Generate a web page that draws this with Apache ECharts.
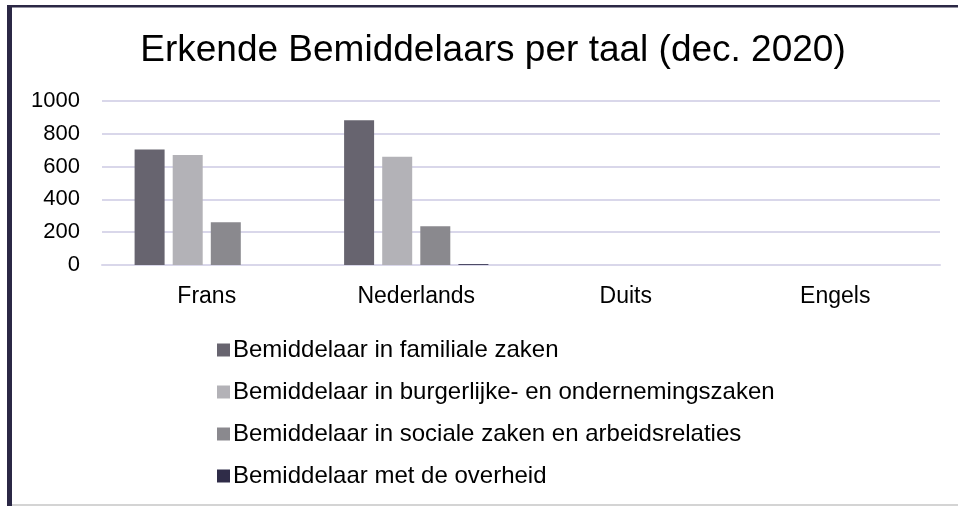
<!DOCTYPE html>
<html>
<head>
<meta charset="utf-8">
<script src="https://cdn.jsdelivr.net/npm/echarts@6/dist/echarts.min.js"></script>
<style>
html, body { margin: 0; padding: 0; background: #fff; }
#view { width: 958px; height: 506px; }
</style>
</head>
<body>
<div id="view"></div>
<script>
var talen = ['Frans', 'Nederlands', 'Duits', 'Engels'];
var reeksNamen = [
    'Bemiddelaar in familiale zaken',
    'Bemiddelaar in burgerlijke- en ondernemingszaken',
    'Bemiddelaar in sociale zaken en arbeidsrelaties',
    'Bemiddelaar met de overheid'
];
var familiaal = [705, 883, 0, 0];
var burgerlijk = [671, 660, 0, 0];
var sociaal = [261, 236, 0, 0];
var overheid = [0, 5, 0, 0];
var kleuren = ['#67646f', '#b3b2b7', '#8a898e', '#2f2c48'];

var myChart = echarts.init(document.getElementById('view'));

var waarden = [familiaal, burgerlijk, sociaal, overheid];
var seriesd = [];
for (var i = 0; i < reeksNamen.length; i++) {
    seriesd.push({
        name: reeksNamen[i],
        type: 'bar',
        barWidth: 30,
        barGap: '27%',
        itemStyle: { color: kleuren[i] },
        data: waarden[i]
    });
}

var option = {
    animation: false,
    textStyle: { fontFamily: 'Liberation Sans' },
    title: {
        text: 'Erkende Bemiddelaars per taal (dec. 2020)',
        left: 488,
        textAlign: 'center',
        top: 27,
        textStyle: { fontSize: 37, fontWeight: 'normal', color: '#000', fontFamily: 'Liberation Sans' }
    },
    legend: {
        orient: 'vertical',
        left: 212,
        top: 333,
        itemWidth: 13,
        itemHeight: 13,
        itemGap: 18,
        icon: 'rect',
        textStyle: { fontSize: 24, color: '#000', lineHeight: 24, fontFamily: 'Liberation Sans', padding: [0, 0, 0, -2] },
        data: reeksNamen
    },
    grid: { left: 102, right: 18, top: 101, bottom: 241, containLabel: false },
    xAxis: {
        type: 'category',
        data: talen,
        axisTick: { show: false },
        axisLine: { lineStyle: { color: '#d9d7ea', width: 2 } },
        axisLabel: { fontSize: 23, color: '#000', margin: 20 }
    },
    yAxis: {
        type: 'value',
        min: 0,
        max: 1000,
        interval: 200,
        axisLine: { show: false },
        axisTick: { show: false },
        axisLabel: { fontSize: 22, color: '#000', margin: 22, formatter: function (v) { return String(v); } },
        splitLine: { lineStyle: { color: '#d9d7ea', width: 2 } }
    },
    graphic: [
        { type: 'rect', shape: { x: 7, y: 5, width: 951, height: 2.5 }, style: { fill: '#2b2845' } },
        { type: 'rect', shape: { x: 7, y: 5, width: 5, height: 501 }, style: { fill: '#2b2845' } },
        { type: 'rect', shape: { x: 12, y: 504, width: 946, height: 2 }, style: { fill: '#d4d4d4' } }
    ],
    series: seriesd
};

myChart.setOption(option);
</script>
</body>
</html>
